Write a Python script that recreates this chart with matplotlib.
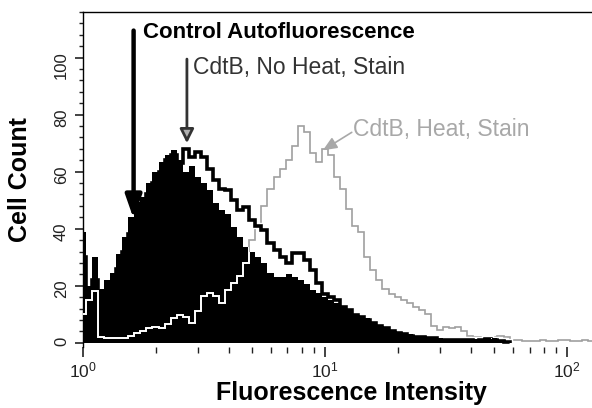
import numpy as np
import matplotlib.pyplot as plt
from matplotlib.ticker import MultipleLocator
import matplotlib.patheffects as pe

plt.rcParams['font.family'] = ['Liberation Sans', 'DejaVu Sans']

# bin width in decades (log10 units), bins start at 10^0
step = 0.025

# Control autofluorescence (filled black)
control = [39, 20, 30, 19, 22, 24.5, 31, 37, 44, 49.5,
           51, 56, 60, 63.5, 66, 67.5, 64, 60, 62, 58,
           56, 53.5, 49, 46.5, 45, 40.5, 37, 33.5, 32, 30,
           28, 24.5, 23, 23, 24, 23, 22, 20.5, 18.5, 17.5,
           16, 15, 14, 12.3, 11, 9.8, 9, 8.6, 7.4, 6.3,
           5.2, 4, 3.5, 2.8, 3, 2.5, 2, 1.5, 2, 1.5,
           1, 1, 0.8, 1, 0.7, 1.2, 0.8, 1, 1.5, 1, 0.5]

# CdtB, No Heat, Stain (black outline)
no_heat = [30, 15, 22, 14, 17, 20, 26, 32, 38, 43,
           47, 52, 56, 60, 64, 66, 63, 68, 65, 67,
           65, 61, 57, 54, 53.5, 50, 46.5, 47.5, 43, 41,
           39.5, 35, 32.5, 30, 28, 31.5, 31.5, 29, 25.5, 21,
           17, 16, 15, 12.6, 11.6, 9.8, 9, 8, 7, 6,
           5, 4, 3.5, 3, 2.5, 2, 2, 1.5, 1.5, 1,
           1, 0.8, 1, 0.8, 1, 0.7, 1, 1.2, 1, 0.5, 0.3]

# CdtB, Heat, Stain (light grey outline)
heat = [10, 15, 18, 2, 1.8, 1.8, 1.5, 1.5, 2.5, 3.5,
        4, 5, 5.5, 5.3, 6.5, 8.5, 9.8, 9.2, 7, 11,
        16.5, 17.5, 16.5, 14, 18.5, 21, 23.5, 28, 36, 41,
        48, 54, 58, 61, 64, 69, 76, 74, 66.5, 63.5,
        68, 66, 58, 54, 47, 41, 39, 30, 25.5, 22,
        19, 17, 16, 15, 14, 12.5, 11.5, 10, 6, 4.5,
        5.5, 5, 5.5, 4, 2.5, 2, 2, 1.8, 2, 2.2,
        2, 1, 0.8, 0.5, 0.6, 0.5, 0.8, 0.5, 0.6, 0.8,
        1, 0.6, 0.5, 0.8, 0.5]


def edges(n):
    return 10 ** ((np.arange(n + 1) - 0.5) * step)


fig = plt.figure(figsize=(5.92, 4.08), dpi=100)
ax = fig.add_axes([0.140, 0.1495, 0.860, 0.821])

# heat curve in grey (seen on white background)
ax.stairs(heat, edges(len(heat)), color='#a0a0a0', lw=1.2, zorder=1)

# no heat curve: black with a white rim
ax.stairs(no_heat, edges(len(no_heat)), color='black', lw=2.6, zorder=2,
          path_effects=[pe.withStroke(linewidth=4.6, foreground='white')])

# control filled
fill = ax.stairs(control, edges(len(control)), fill=True, color='black',
                 lw=0, zorder=3)

# heat curve shows as white where it runs over the black fill
hw = ax.stairs(heat, edges(len(heat)), color='white', lw=1.4, zorder=4)
hw.set_clip_path(fill)

ax.set_xscale('log')
ax.set_xlim(1, 10 ** 2.103)
ax.set_ylim(-1.5, 116)

ax.yaxis.set_major_locator(MultipleLocator(20))
ax.yaxis.set_minor_locator(MultipleLocator(4))
ax.set_yticks([0, 20, 40, 60, 80, 100])

ax.spines['right'].set_visible(False)
ax.spines['bottom'].set_visible(False)
ax.spines['top'].set_linewidth(1.0)
ax.spines['left'].set_linewidth(1.0)

ax.tick_params(axis='y', which='major', length=6, width=1.2, labelsize=12,
               labelrotation=90, pad=4, colors='#222222')
ax.tick_params(axis='y', which='minor', length=3, width=1.0, colors='#222222')
ax.tick_params(axis='x', which='major', length=7, width=1.2, labelsize=12.5,
               pad=3, colors='#222222')
ax.tick_params(axis='x', which='minor', length=4, width=1.0, colors='#222222')
ax.set_xticks([1, 10, 100])

ax.set_xlabel('Fluorescence Intensity', fontsize=18, fontweight='bold',
              va='center')
ax.xaxis.set_label_coords(0.528, -0.136)
ax.set_ylabel('Cell Count', fontsize=18, fontweight='bold', va='center')
ax.yaxis.set_label_coords(-0.123, 0.5)

# annotations
ax.annotate('', xy=(1.62, 43.5), xytext=(1.62, 109.5),
            arrowprops=dict(arrowstyle='-|>,head_width=0.35,head_length=1.0',
                            lw=3.2, color='black', mutation_scale=14,
                            shrinkA=0, shrinkB=0), zorder=6)
ax.text(1.77, 108.8, 'Control Autofluorescence', fontsize=16,
        fontweight='bold', va='center', ha='left', color='black')

ax.annotate('', xy=(2.69, 70), xytext=(2.69, 99.5),
            arrowprops=dict(arrowstyle='-|>,head_width=0.3,head_length=0.6',
                            lw=2.0, facecolor='#b0b0b0', edgecolor='#333333',
                            mutation_scale=14, shrinkA=0, shrinkB=0), zorder=6)
ax.text(2.85, 96.5, 'CdtB, No Heat, Stain', fontsize=16.5, va='center',
        ha='left', color='#333333')

ax.annotate('', xy=(9.8, 67.5), xytext=(12.9, 73.8),
            arrowprops=dict(arrowstyle='-|>,head_width=0.3,head_length=0.7',
                            lw=1.2, color='#a8a8a8', mutation_scale=12,
                            shrinkA=0, shrinkB=0), zorder=6)
ax.text(13.05, 74.7, 'CdtB, Heat, Stain', fontsize=16.5, va='center',
        ha='left', color='#a8a8a8')

fig.savefig('out.png', dpi=100)
